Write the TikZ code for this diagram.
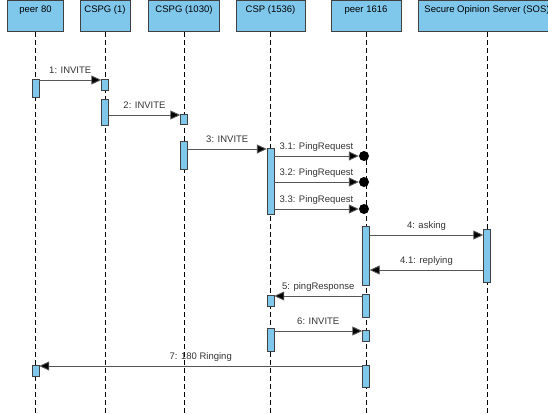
\documentclass[tikz,border=0pt]{standalone}
\usepackage{fontspec}
\setmainfont{Liberation Sans}
\usetikzlibrary{positioning}
\usetikzlibrary{arrows.meta}

\definecolor{boxblue}{RGB}{128,199,236}
\definecolor{linegray}{RGB}{85,85,85}

\begin{document}
\begin{tikzpicture}[x=1pt, y=-1pt,
                font=\fontsize{9.5}{11}\selectfont,
                hdr/.style={rectangle, draw=black!75, fill=boxblue, anchor=north, inner ysep=3pt, text height=8.5pt, text depth=16.5pt},
                act/.style={rectangle, draw=black!75, fill=boxblue, anchor=north, minimum width=7pt, inner sep=0pt},
                lifeline/.style={black, dash pattern=on 5pt off 3pt},
                msg/.style={linegray, line width=0.9pt, -{Triangle[length=10pt, width=9pt, fill=black]}},
                lbl/.style={midway, anchor=base, yshift=6.5pt, text=black!80},
                lost/.style={circle, fill=black, minimum size=10pt, inner sep=0pt},
                ]
                \useasboundingbox (0,0) rectangle (548,414);
                \clip (0,0) rectangle (548,414);

                % objects
                \node[hdr, minimum width=56pt] (P80) at (35.5,0.5) {peer 80};
                \node[hdr, minimum width=50pt] (G1) at (105,0.5) {CSPG (1)};
                \node[hdr, minimum width=71pt] (G1030) at (184,0.5) {CSPG (1030)};
                \node[hdr, minimum width=69pt] (CSP) at (270.5,0.5) {CSP (1536)};
                \node[hdr, minimum width=70pt] (P1616) at (366,0.5) {peer 1616};
                \node[hdr, minimum width=138pt] (SOS) at (487,0.5) {Secure Opinion Server (SOS)};

                % lifelines
                \draw[lifeline] (P80.south) -- (P80.south |- 0,414);
                \draw[lifeline] (G1.south) -- (G1.south |- 0,414);
                \draw[lifeline] (G1030.south) -- (G1030.south |- 0,414);
                \draw[lifeline] (CSP.south) -- (CSP.south |- 0,414);
                \draw[lifeline] (P1616.south) -- (P1616.south |- 0,414);
                \draw[lifeline] (SOS.south) -- (SOS.south |- 0,414);

                % activations
                \node[act, minimum height=18pt] (A1) at (35.5,79) {};
                \node[act, minimum height=11pt] (A7) at (35.5,365) {};
                \node[act, minimum height=11pt] (B1) at (105,79) {};
                \node[act, minimum height=26pt] (B2) at (105,99) {};
                \node[act, minimum height=10pt] (C2) at (184,114) {};
                \node[act, minimum height=28pt] (C3) at (184,141) {};
                \node[act, minimum height=66pt] (D3) at (270.5,148) {};
                \node[act, minimum height=11pt] (D5) at (270.5,295) {};
                \node[act, minimum height=23pt] (D6) at (270.5,328) {};
                \node[act, minimum height=59pt] (E4) at (366,226) {};
                \node[act, minimum height=23pt] (E5) at (366,294) {};
                \node[act, minimum height=11pt] (E6) at (366,330) {};
                \node[act, minimum height=22pt] (E7) at (366,365) {};
                \node[act, minimum height=53pt] (F4) at (487,229) {};

                \node[lost] (L1) at (364,156) {};
                \node[lost] (L2) at (364,182) {};
                \node[lost] (L3) at (364,209) {};

                % messages
                \draw[msg] (A1.east |- 0,80) -- (B1.west |- 0,80) node[lbl] {1: INVITE};
                \draw[msg] (B2.east |- 0,115) -- (C2.west |- 0,115) node[lbl] {2: INVITE};
                \draw[msg] (C3.east |- 0,149) -- (D3.west |- 0,149) node[lbl] {3: INVITE};
                \draw[msg] (D3.east |- L1) -- (L1.west) node[lbl] {3.1: PingRequest};
                \draw[msg] (D3.east |- L2) -- (L2.west) node[lbl] {3.2: PingRequest};
                \draw[msg] (D3.east |- L3) -- (L3.west) node[lbl] {3.3: PingRequest};
                \draw[msg] (E4.east |- 0,235) -- (F4.west |- 0,235) node[lbl] {4: asking};
                \draw[msg] (F4.west |- 0,270) -- (E4.east |- 0,270) node[lbl] {4.1: replying};
                \draw[msg] (E5.west |- 0,296) -- (D5.east |- 0,296) node[lbl] {5: pingResponse};
                \draw[msg] (D6.east |- 0,331) -- (E6.west |- 0,331) node[lbl] {6: INVITE};
                \draw[msg] (E7.west |- 0,366) -- (A7.east |- 0,366) node[lbl] {7: 180 Ringing};
            \end{tikzpicture}
\end{document}
